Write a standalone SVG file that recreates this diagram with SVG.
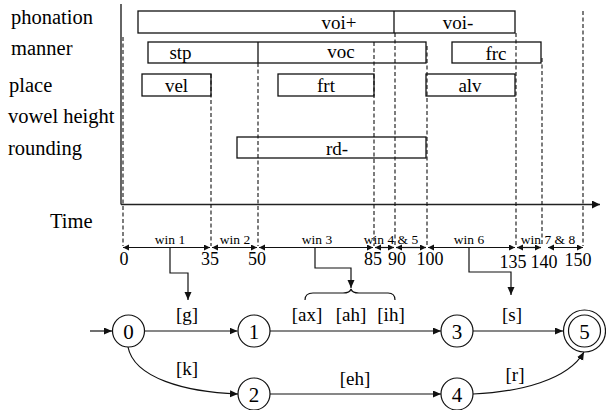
<svg xmlns="http://www.w3.org/2000/svg" width="606" height="410" viewBox="0 0 606 410">
<defs>
<style>
text{font-family:"Liberation Serif","Times New Roman","DejaVu Serif",serif;fill:#000}
.lbl{font-size:20.5px}
.bt{font-size:19px;text-anchor:middle}
.win{font-size:13.5px;text-anchor:middle}
.num{font-size:18px;text-anchor:middle}
.fl{font-size:19px;text-anchor:middle}
.nd{font-size:21px;text-anchor:middle}
.box{fill:#fff;stroke:#111;stroke-width:1.3}
.sol{fill:none;stroke:#111;stroke-width:1.3}
.dash{fill:none;stroke:#111;stroke-width:1.1;stroke-dasharray:4,2.5}
.warr{fill:none;stroke:#111;stroke-width:1.2;marker-start:url(#wa);marker-end:url(#wa)}
.conn{fill:none;stroke:#111;stroke-width:1.2}
.circ{fill:#fff;stroke:#111;stroke-width:1.2}
</style>
<marker id="wa" markerUnits="userSpaceOnUse" markerWidth="7" markerHeight="7" refX="6" refY="3" orient="auto-start-reverse"><path d="M0,0 L6,3 L0,6 z" fill="#111"/></marker>
<marker id="ah" markerUnits="userSpaceOnUse" markerWidth="9" markerHeight="8" refX="8" refY="3.5" orient="auto"><path d="M0,0 L8,3.5 L0,7 z" fill="#111"/></marker>
<marker id="ax" markerUnits="userSpaceOnUse" markerWidth="9" markerHeight="9" refX="8" refY="4" orient="auto"><path d="M0,0 L8,4 L0,8 z" fill="#111"/></marker>
</defs>
<rect width="606" height="410" fill="#fff"/>

<g id="row-labels">
<text class="lbl" x="11" y="24">phonation</text>
<text class="lbl" x="11" y="55">manner</text>
<text class="lbl" x="9" y="91.5">place</text>
<text class="lbl" x="8" y="123">vowel height</text>
<text class="lbl" x="8" y="155">rounding</text>
<text class="lbl" x="50" y="227.5">Time</text>
</g>

<g id="feature-boxes">
<g id="phonation">
<rect class="box" x="138" y="11" width="377" height="22"/>
<line class="sol" x1="394" y1="11" x2="394" y2="33"/>
<text class="bt" x="339" y="29">voi+</text>
<text class="bt" x="458" y="29">voi-</text>
</g>
<g id="manner">
<rect class="box" x="148" y="42" width="278" height="21"/>
<line class="sol" x1="258" y1="42" x2="258" y2="63"/>
<text class="bt" x="180.5" y="58.5">stp</text>
<text class="bt" x="341" y="58">voc</text>
<rect class="box" x="452" y="42" width="89" height="21"/>
<text class="bt" x="496" y="60">frc</text>
</g>
<g id="place">
<rect class="box" x="142" y="74" width="69" height="22"/>
<text class="bt" x="176.5" y="91.5">vel</text>
<rect class="box" x="278" y="74" width="96" height="22"/>
<text class="bt" x="326" y="91.5">frt</text>
<rect class="box" x="426" y="74" width="89" height="22"/>
<text class="bt" x="470" y="91.5">alv</text>
</g>
<g id="rounding">
<rect class="box" x="237" y="137" width="189" height="21"/>
<text class="bt" x="337" y="155">rd-</text>
</g>
</g>

<g id="time-axis">
<line class="sol" x1="121" y1="4" x2="121" y2="204.5"/>
<line x1="121" y1="204.5" x2="600" y2="204.5" stroke="#222" stroke-width="1.3" marker-end="url(#ax)"/>
<line class="dash" x1="123" y1="37" x2="123" y2="246"/>
<line class="dash" x1="211" y1="74" x2="211" y2="246"/>
<line class="dash" x1="258" y1="63" x2="258" y2="246"/>
<line class="dash" x1="374" y1="42" x2="374" y2="246"/>
<line class="dash" x1="395" y1="33" x2="395" y2="246"/>
<line class="dash" x1="427" y1="46" x2="427" y2="246"/>
<line class="dash" x1="516" y1="33" x2="516" y2="246"/>
<line class="dash" x1="542" y1="58" x2="542" y2="246"/>
<line class="dash" x1="583" y1="11" x2="583" y2="246"/>
</g>

<g id="windows">
<line class="warr" x1="123" y1="247.5" x2="210" y2="247.5"/>
<line class="warr" x1="212" y1="247.5" x2="257" y2="247.5"/>
<line class="warr" x1="259" y1="247.5" x2="373" y2="247.5"/>
<line class="warr" x1="375" y1="247.5" x2="394" y2="247.5"/>
<line class="warr" x1="396" y1="247.5" x2="426" y2="247.5"/>
<line class="warr" x1="428" y1="247.5" x2="515" y2="247.5"/>
<line class="warr" x1="517" y1="247.5" x2="541" y2="247.5"/>
<line class="warr" x1="548" y1="247.5" x2="583" y2="247.5"/>
<text class="win" x="170" y="243.5">win 1</text>
<text class="win" x="235" y="243.5">win 2</text>
<text class="win" x="317" y="243.5">win 3</text>
<text class="win" x="391" y="243.5">win 4 &amp; 5</text>
<text class="win" x="469" y="243.5">win 6</text>
<text class="win" x="548" y="243.5">win 7 &amp; 8</text>
<text class="num" x="124" y="265">0</text>
<text class="num" x="210" y="265">35</text>
<text class="num" x="257" y="265">50</text>
<text class="num" x="373" y="265">85</text>
<text class="num" x="397" y="265">90</text>
<text class="num" x="430" y="265">100</text>
<text class="num" x="513" y="268">135</text>
<text class="num" x="544" y="268">140</text>
<text class="num" x="578" y="265.5">150</text>
</g>

<g id="connectors">
<path class="conn" d="M170,248 V273 H188 V300" marker-end="url(#ah)"/>
<path class="conn" d="M315,248 V268 H351 V288" marker-end="url(#ah)"/>
<path class="conn" d="M469,248 V272 H511 V295" marker-end="url(#ah)"/>
<path class="conn" d="M305,300 Q305,293 313,293 L343,293 Q350,293 351,289 Q352,293 359,293 L388,293 Q395,293 395,300"/>
<path class="conn" d="M90,331 L112,331" marker-end="url(#ah)"/>
<path class="conn" d="M144.5,331 L237.5,331" marker-end="url(#ah)"/>
<path class="conn" d="M270,331 L441,331" marker-end="url(#ah)"/>
<path class="conn" d="M473,331 L563,331" marker-end="url(#ah)"/>
<path class="conn" d="M270,394 L441,394" marker-end="url(#ah)"/>
<path class="conn" d="M128,347 C134,378 185,392 238,394" marker-end="url(#ah)"/>
<path class="conn" d="M473,394 C520,392 568,380 584,352" marker-end="url(#ah)"/>
<text class="fl" x="187" y="321">[g]</text>
<text class="fl" x="307" y="321">[ax]</text>
<text class="fl" x="351" y="321">[ah]</text>
<text class="fl" x="391" y="321">[ih]</text>
<text class="fl" x="512" y="321">[s]</text>
<text class="fl" x="187" y="375">[k]</text>
<text class="fl" x="355" y="385">[eh]</text>
<text class="fl" x="515" y="381">[r]</text>
</g>

<g id="node-0"><circle class="circ" cx="128.5" cy="331" r="16"/><text class="nd" x="128.5" y="338.5">0</text></g>
<g id="node-1"><circle class="circ" cx="254" cy="331" r="16"/><text class="nd" x="254" y="338.5">1</text></g>
<g id="node-2"><circle class="circ" cx="254" cy="394" r="16"/><text class="nd" x="254" y="401.5">2</text></g>
<g id="node-3"><circle class="circ" cx="457" cy="331" r="16"/><text class="nd" x="457" y="338.5">3</text></g>
<g id="node-4"><circle class="circ" cx="457" cy="394" r="16"/><text class="nd" x="457" y="401.5">4</text></g>
<g id="node-5"><circle class="circ" cx="584.5" cy="331" r="21"/><circle class="circ" cx="584.5" cy="331" r="16"/><text class="nd" x="584.5" y="338.5">5</text></g>
</svg>
